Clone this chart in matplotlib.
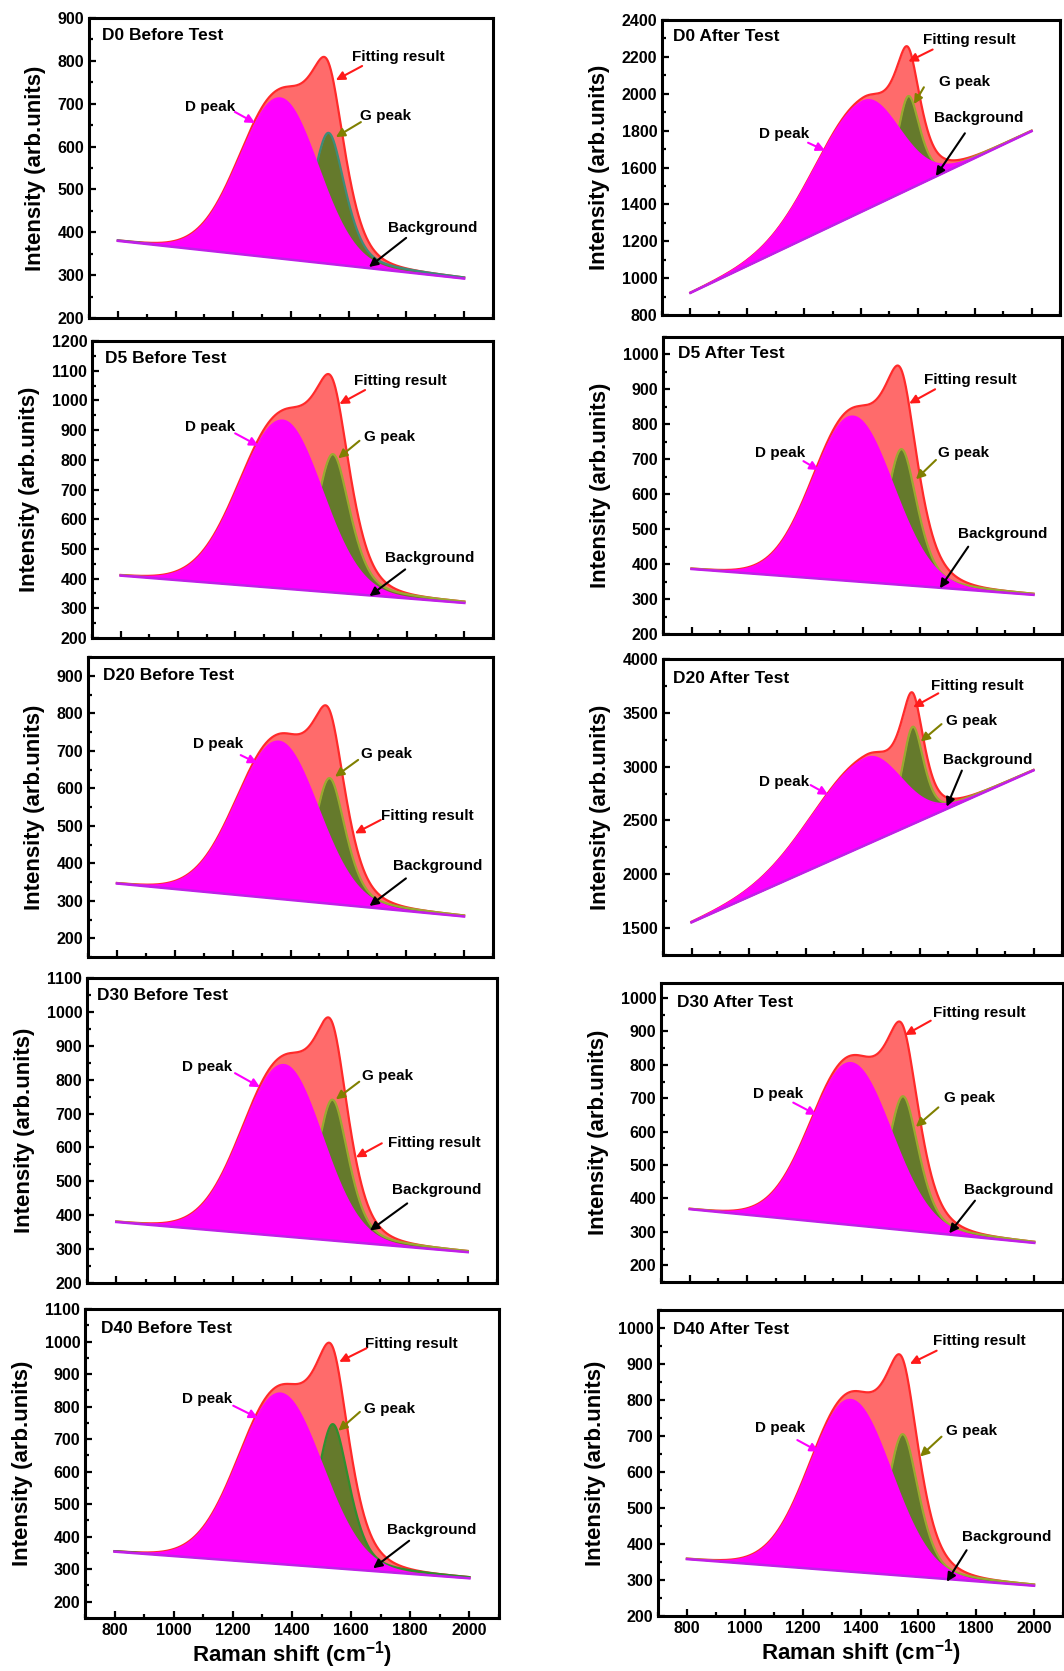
import numpy as np
import matplotlib
matplotlib.use("Agg")
import matplotlib.pyplot as plt
from matplotlib.ticker import MultipleLocator

plt.rcParams['font.family'] = ['Liberation Sans', 'DejaVu Sans']
plt.rcParams['font.weight'] = 'bold'
plt.rcParams['mathtext.fontset'] = 'custom'
plt.rcParams['mathtext.rm'] = 'Liberation Sans:bold'
plt.rcParams['mathtext.bf'] = 'Liberation Sans:bold'

# Fitted Raman spectra, one entry per sample
titles = ['D0 Before Test', 'D0 After Test', 'D5 Before Test', 'D5 After Test',
          'D20 Before Test', 'D20 After Test', 'D30 Before Test', 'D30 After Test',
          'D40 Before Test', 'D40 After Test']

# linear background at 800 and 2000 cm-1
bg_800 = [380, 920, 410, 386, 346, 1553, 380, 368, 354, 358]
bg_2000 = [292, 1797, 318, 312, 258, 2965, 291, 267, 272, 284]

# D band (Gaussian): position, apex intensity, left / right sigma
d_pos = [1363, 1407, 1366, 1367, 1360, 1412, 1373, 1362, 1361, 1366]
d_apex = [713, 1960, 933, 823, 725, 3080, 844, 806, 841, 801]
d_sig_left = [140, 168, 150, 140, 145, 190, 141, 140, 140, 140]
d_sig_right = [130, 125, 137, 140, 135, 120, 130, 140, 140, 140]

# G band (pseudo-Voigt, half Lorentzian / half Gaussian): position, apex intensity, width
g_pos = [1530, 1566, 1541, 1537, 1535, 1576, 1538, 1543, 1538, 1546]
g_apex = [632, 1987, 819, 729, 627, 3370, 741, 706, 746, 705]
g_w = [62, 45, 65, 60, 60, 42, 60, 60, 60, 60]
g_mix = 0.5

y_lims = [(200, 900), (800, 2400), (200, 1200), (200, 1050), (150, 950),
          (1250, 4000), (200, 1100), (150, 1045), (150, 1100), (200, 1050)]
y_step = [100, 200, 100, 100, 100, 500, 100, 100, 100, 100]

# panel boxes in pixels: left, top, right, bottom
boxes = [(89, 18, 493, 318), (662, 20, 1060, 315),
         (92, 341, 493, 638), (663, 337, 1062, 634),
         (88, 657, 493, 957), (663, 659, 1062, 955),
         (87, 978, 497, 1283), (661, 983, 1063, 1282),
         (85, 1309, 499, 1618), (658, 1310, 1063, 1616)]

title_xy = [(.032, .94), (.028, .943), (.032, .942), (.038, .945), (.036, .94),
            (.026, .935), (.025, .941), (.039, .935), (.038, .937), (.038, .937)]

# label anchors and arrows (axes fraction): text x, y, arrow start x, y, arrow tip x, y
notes = [
    [(.238, .703, .361, .687, .411, .65), (.671, .673, .673, .653, .611, .603),
     (.651, .87, .676, .84, .611, .793), (.74, .30, .785, .267, .693, .17)],
    [(.244, .614, .367, .584, .41, .557), (.695, .791, .658, .772, .633, .715),
     (.655, .932, .68, .90, .619, .859), (.684, .667, .761, .616, .688, .471)],
    [(.232, .709, .357, .689, .415, .647), (.678, .678, .667, .664, .614, .605),
     (.653, .866, .681, .835, .617, .788), (.731, .27, .781, .231, .692, .141)],
    [(.231, .608, .352, .582, .39, .552), (.69, .61, .684, .586, .634, .521),
     (.654, .855, .682, .824, .617, .776), (.74, .337, .765, .294, .694, .154)],
    [(.26, .71, .377, .673, .418, .646), (.673, .677, .667, .657, .61, .601),
     (.723, .47, .723, .457, .659, .412), (.752, .303, .785, .262, .695, .17)],
    [(.241, .586, .37, .574, .414, .541), (.709, .791, .698, .78, .646, .721),
     (.671, .909, .69, .884, .627, .837), (.701, .659, .749, .623, .711, .501)],
    [(.231, .707, .361, .688, .422, .642), (.67, .679, .664, .66, .607, .602),
     (.734, .46, .719, .458, .656, .412), (.743, .305, .781, .261, .69, .172)],
    [(.23, .629, .329, .6, .387, .559), (.704, .616, .69, .584, .634, .519),
     (.677, .899, .671, .874, .607, .826), (.754, .308, .781, .272, .717, .163)],
    [(.234, .709, .358, .687, .418, .647), (.674, .675, .664, .667, .612, .606),
     (.676, .888, .68, .873, .614, .829), (.73, .285, .783, .25, .696, .161)],
    [(.24, .614, .344, .575, .397, .537), (.711, .606, .7, .586, .647, .521),
     (.68, .9, .688, .867, .622, .824), (.75, .257, .762, .215, .713, .112)],
]
note_labels = ['D peak', 'G peak', 'Fitting result', 'Background']
note_colors = ['#ff00ff', '#808000', '#ff1a1a', 'black']

g_edge = ['#3d8c7a', '#9aaa30', '#9aaa30', '#9aaa30', '#9aaa30',
          '#9aaa30', '#9aaa30', '#9aaa30', '#2f8f2f', '#9aaa30']

W, H = 1064, 1671
fig = plt.figure(figsize=(W / 100, H / 100), dpi=100)

shift = np.linspace(800, 2000, 1201)

for i in range(10):
    L, T, R, B = boxes[i]
    ax = fig.add_axes([L / W, 1 - B / H, (R - L) / W, (B - T) / H])

    bg = bg_800[i] + (bg_2000[i] - bg_800[i]) * (shift - 800) / 1200
    bg_d = bg_800[i] + (bg_2000[i] - bg_800[i]) * (d_pos[i] - 800) / 1200
    bg_g = bg_800[i] + (bg_2000[i] - bg_800[i]) * (g_pos[i] - 800) / 1200
    sig = np.where(shift < d_pos[i], d_sig_left[i], d_sig_right[i])
    d_band = (d_apex[i] - bg_d) * np.exp(-(shift - d_pos[i]) ** 2 / (2 * sig ** 2))
    u = (shift - g_pos[i]) / g_w[i]
    g_shape = g_mix / (1 + u ** 2) + (1 - g_mix) * np.exp(-u ** 2 / 2)
    g_band = (g_apex[i] - bg_g) * g_shape
    total = bg + d_band + g_band

    ax.fill_between(shift, bg, total, color='#ff6b6b', lw=0, zorder=1)
    ax.plot(shift, total, color='#ff2a2a', lw=1.6, zorder=2)
    ax.fill_between(shift, bg, bg + g_band, color='#657a2c', lw=0, zorder=3)
    ax.plot(shift, bg + g_band, color=g_edge[i], lw=1.6, zorder=4)
    ax.fill_between(shift, bg, bg + d_band, color='#ff00ff', lw=0, zorder=5)
    ax.plot(shift, bg + d_band, color='#ff00ff', lw=1.2, zorder=5)
    ax.plot(shift, bg, color='#c020e8', lw=1.8, zorder=6)

    ax.set_xlim(700, 2100)
    ax.set_ylim(*y_lims[i])
    ax.xaxis.set_major_locator(MultipleLocator(200))
    ax.xaxis.set_minor_locator(MultipleLocator(100))
    ax.yaxis.set_major_locator(MultipleLocator(y_step[i]))
    ax.yaxis.set_minor_locator(MultipleLocator(y_step[i] / 2))
    ax.tick_params(which='both', direction='in', width=1.6, labelsize=11.5,
                   top=False, right=False)
    ax.tick_params(which='major', length=5)
    ax.tick_params(which='minor', length=3)
    for sp in ax.spines.values():
        sp.set_linewidth(2.2)
    for lab in ax.get_xticklabels() + ax.get_yticklabels():
        lab.set_fontweight('bold')

    if i < 8:
        ax.tick_params(axis='x', labelbottom=False)
    else:
        ax.set_xlabel('Raman shift (cm$^{-1}$)', fontsize=16, fontweight='bold', labelpad=1)

    ax.set_ylabel('Intensity (arb.units)', fontsize=16, fontweight='bold', labelpad=8)

    ax.text(*title_xy[i], titles[i], transform=ax.transAxes, fontsize=12.5,
            fontweight='bold', ha='left', va='center')

    for lab, col, (tx, ty, ax0, ay0, ax1, ay1) in zip(note_labels, note_colors, notes[i]):
        ax.text(tx, ty, lab, transform=ax.transAxes, fontsize=11, fontweight='bold',
                ha='left', va='center', zorder=10)
        ax.annotate('', xy=(ax1, ay1), xytext=(ax0, ay0),
                    xycoords='axes fraction', textcoords='axes fraction',
                    arrowprops=dict(arrowstyle='-|>', color=col, lw=1.5,
                                    mutation_scale=13, shrinkA=0, shrinkB=0),
                    zorder=10)

fig.savefig('out.png', dpi=100)
